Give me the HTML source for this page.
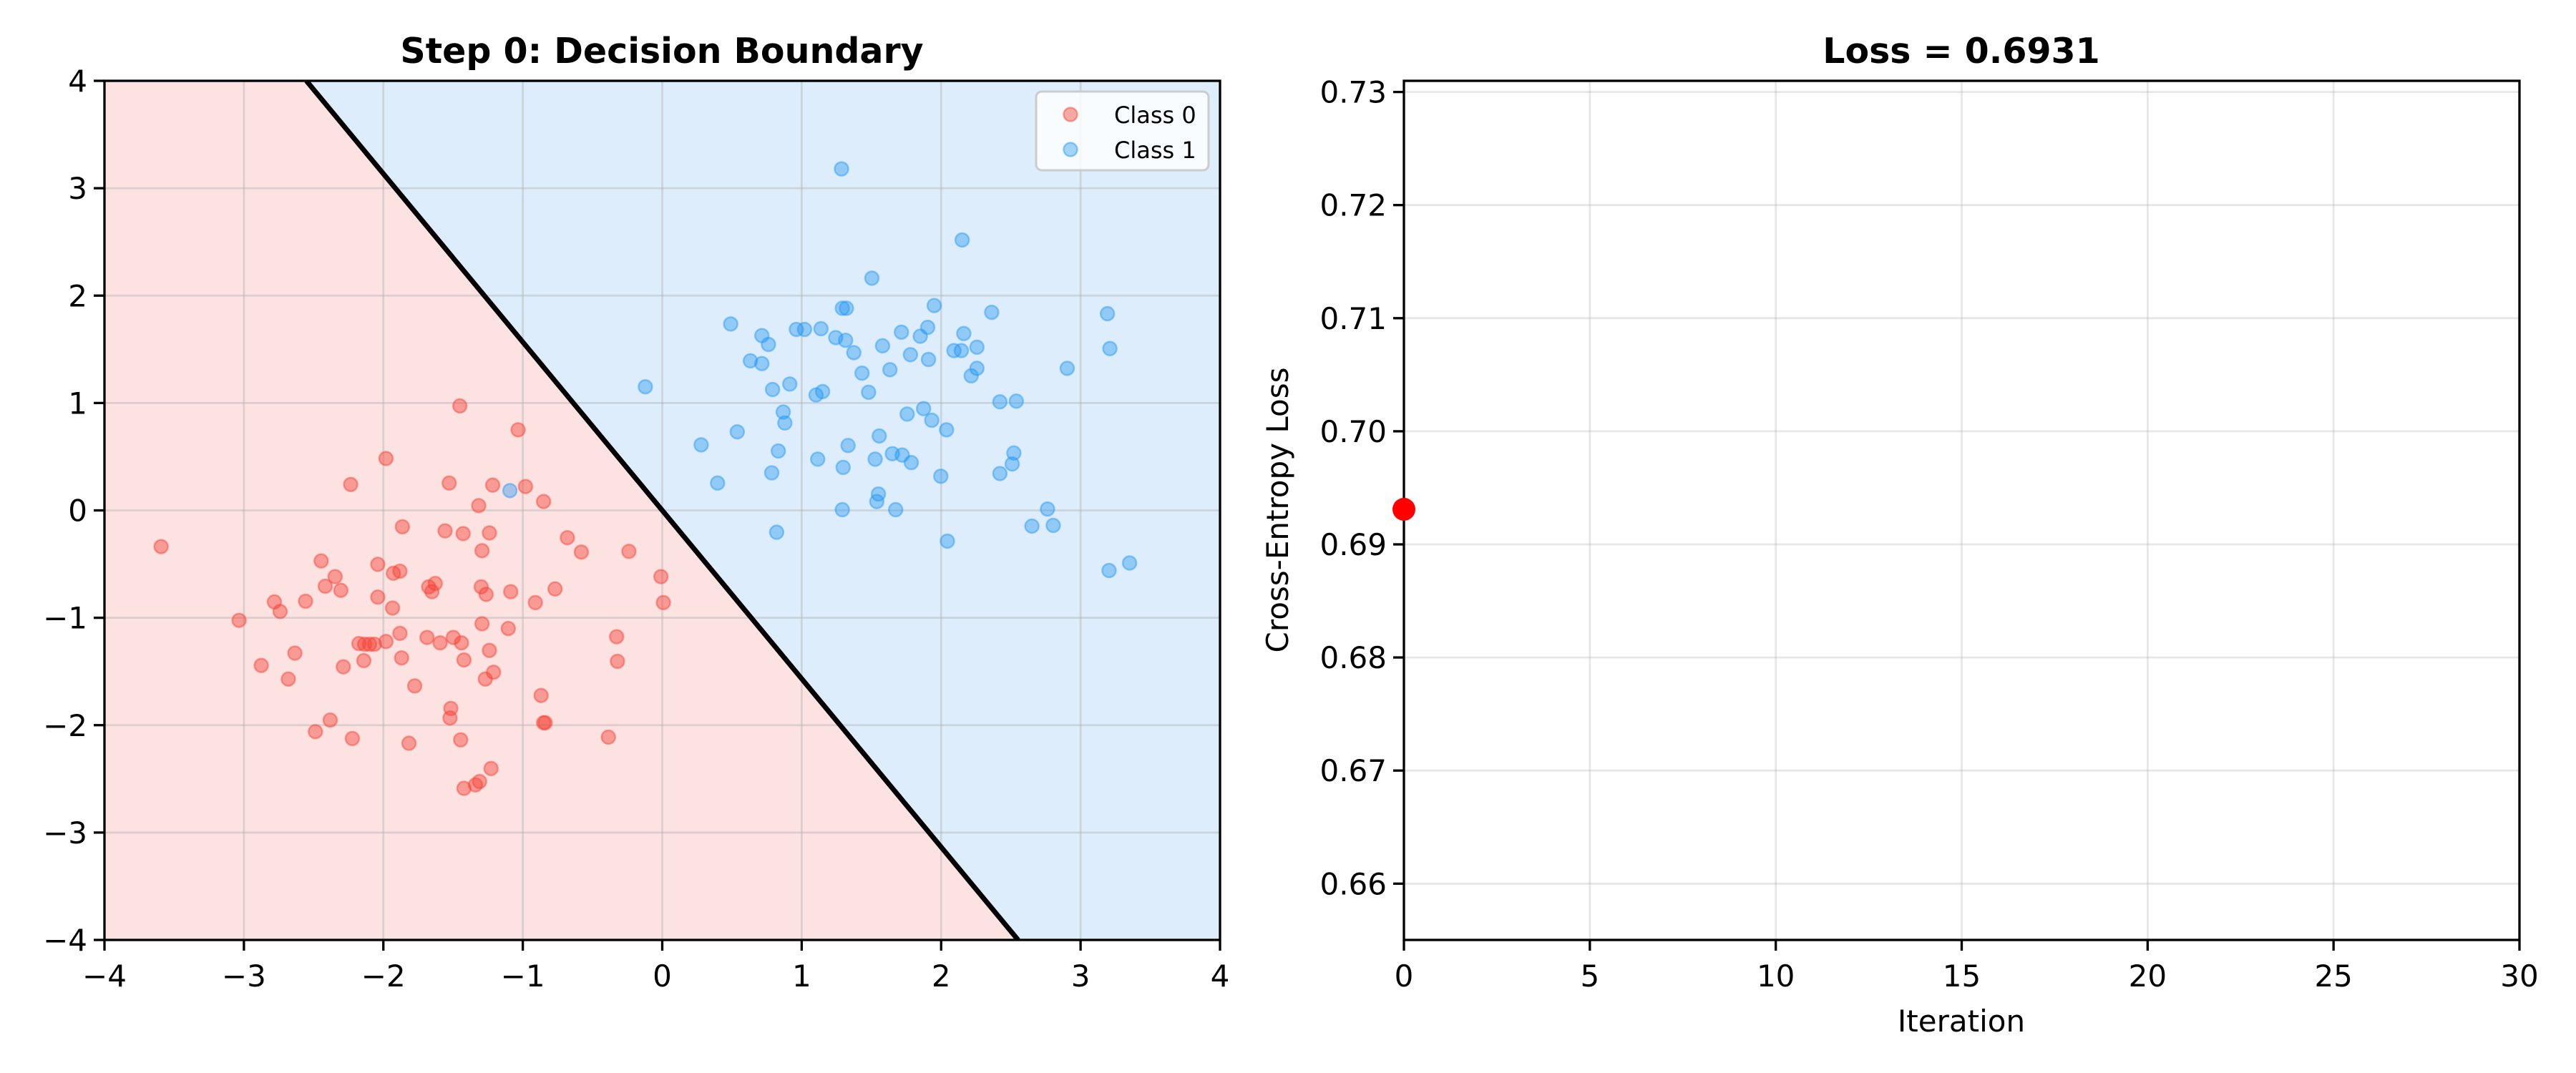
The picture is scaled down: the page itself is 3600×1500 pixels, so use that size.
<!DOCTYPE html>
<html><head><meta charset="utf-8"><style>
html,body{margin:0;padding:0;background:#fff}
svg{display:block}
text{font-family:"DejaVu Sans","Liberation Sans",sans-serif;fill:#000}
</style></head><body>
<svg id="s" width="3600" height="1500" xmlns="http://www.w3.org/2000/svg">
<rect width="3600" height="1500" fill="#fff"/>
<defs><clipPath id="cl"><rect x="146" y="113" width="1559" height="1201"/></clipPath></defs>
<g id="L"></g>
<g id="R"></g>
<text x="925" y="88" font-size="49" font-weight="bold" text-anchor="middle">Step 0: Decision Boundary</text>
<text x="2741" y="88" font-size="49" font-weight="bold" text-anchor="middle">Loss = 0.6931</text>
<text x="2741" y="1442" font-size="42" text-anchor="middle">Iteration</text>
<text transform="translate(1800,713) rotate(-90)" font-size="42" text-anchor="middle">Cross-Entropy Loss</text>
</svg>
<script>
const NS="http://www.w3.org/2000/svg";
function el(p,t,a,txt){const e=document.createElementNS(NS,t);for(const k in a)e.setAttribute(k,a[k]);if(txt!==undefined)e.textContent=txt;p.appendChild(e);return e;}
const L=document.getElementById('L'),R=document.getElementById('R');
const x0=146,x1=1705,y0=113,y1=1314;
const X=v=>x0+(v+4)*(x1-x0)/8, Y=v=>y0+(4-v)*(y1-y0)/8;
const g=el(L,'g',{'clip-path':'url(#cl)'});
el(g,'rect',{x:x0,y:y0,width:x1-x0,height:y1-y0,fill:'#ddedfb'});
const k=1.5675;
el(g,'polygon',{points:`${x0},${y0} ${X(-4/k)},${y0} ${X(4/k)},${y1} ${x0},${y1}`,fill:'#fde2e2'});
for(let v=-4;v<=4;v++){
 el(g,'line',{x1:X(v),x2:X(v),y1:y0,y2:y1,stroke:'#b0b0b0','stroke-opacity':0.4,'stroke-width':2.8});
 el(g,'line',{y1:Y(v),y2:Y(v),x1:x0,x2:x1,stroke:'#b0b0b0','stroke-opacity':0.4,'stroke-width':2.8});
}
const zx=v=>(v-127)/169.9-4, zy=v=>4-(v-117)/157.25;
const red=[[196,799],[291,907],[318,973],[334,880],[341,894],[351,993],[359,955],[372,879],[384,1070],[391,820],[396,857],[402,1053],[408,843],[415,863],[418,975],[427,708],[429,1080],[437,941],[443,966],[444,942],[450,942],[456,942],[460,825],[460,873],[470,938],[470,670],[478,889],[479,838],[487,835],[487,926],[489,962],[490,770],[498,1087],[505,1003],[520,932],[522,858],[526,865],[530,853],[536,940],[542,776],[547,706],[548,1050],[549,1036],[552,932],[560,593],[561,1082],[562,940],[564,780],[565,965],[565,1153],[579,1148],[583,739],[584,1143],[586,858],[587,912],[587,805],[592,869],[591,993],[596,951],[596,779],[598,1124],[600,709],[601,983],[619,919],[622,865],[631,628],[640,711],[652,881],[659,1017],[662,733],[662,1057],[664,1057],[676,861],[691,786],[708,807],[741,1078],[751,931],[752,967],[766,806],[805,843],[808,881]];
const blue=[[621,717],[786,565],[854,650],[874,706],[890,473],[898,631],[928,490],[928,531],[914,527],[936,503],[940,691],[941,569],[946,778],[948,659],[954,602],[956,618],[962,561],[970,481],[980,481],[994,577],[996,671],[1000,480],[1002,572],[1018,493],[1025,246],[1026,450],[1027,683],[1026,745],[1030,497],[1031,450],[1033,651],[1040,515],[1050,545],[1058,573],[1062,406],[1066,671],[1068,733],[1070,722],[1071,637],[1075,505],[1084,540],[1087,663],[1091,745],[1098,485],[1099,665],[1105,605],[1109,518],[1110,676],[1121,491],[1125,597],[1130,478],[1131,525],[1135,614],[1138,446],[1146,696],[1153,628],[1154,791],[1162,512],[1171,512],[1172,350],[1174,487],[1183,549],[1190,538],[1190,507],[1208,456],[1218,587],[1218,692],[1233,678],[1235,662],[1238,586],[1257,769],[1276,744],[1283,768],[1300,538],[1349,458],[1351,834],[1352,509],[1376,823]];
for(const [a,b] of red) el(g,'circle',{cx:X(zx(a)),cy:Y(zy(b)),r:9.5,fill:'#f44336','fill-opacity':0.45,stroke:'#f44336','stroke-opacity':0.45,'stroke-width':2.5});
for(const [a,b] of blue) el(g,'circle',{cx:X(zx(a)),cy:Y(zy(b)),r:9.5,fill:'#2196f3','fill-opacity':0.4,stroke:'#2196f3','stroke-opacity':0.45,'stroke-width':2.5});
el(g,'line',{x1:X(-4/k),y1:y0,x2:X(4/k),y2:y1,stroke:'#000','stroke-width':7});
el(L,'rect',{x:x0,y:y0,width:x1-x0,height:y1-y0,fill:'none',stroke:'#000','stroke-width':3.3});
for(let v=-4;v<=4;v++){
 el(L,'line',{x1:X(v),x2:X(v),y1:y1,y2:y1+15,stroke:'#000','stroke-width':3.3});
 el(L,'line',{x1:x0-15,x2:x0,y1:Y(v),y2:Y(v),stroke:'#000','stroke-width':3.3});
 const s=v<0?'\u2212'+(-v):''+v;
 el(L,'text',{x:X(v),y:1379,'font-size':42,'text-anchor':'middle'},s);
 el(L,'text',{x:x0-24,y:Y(v)+15,'font-size':42,'text-anchor':'end'},s);
}
el(L,'rect',{x:1448,y:128,width:241,height:110,rx:8,fill:'#fff','fill-opacity':0.8,stroke:'#ccc','stroke-width':3});
el(L,'circle',{cx:1496,cy:160,r:9.5,fill:'#f44336','fill-opacity':0.45,stroke:'#f44336','stroke-opacity':0.45,'stroke-width':2.5});
el(L,'circle',{cx:1496,cy:209,r:9.5,fill:'#2196f3','fill-opacity':0.4,stroke:'#2196f3','stroke-opacity':0.45,'stroke-width':2.5});
el(L,'text',{x:1557,y:172,'font-size':32},'Class 0');
el(L,'text',{x:1557,y:221,'font-size':32},'Class 1');
const rx0=1962,rx1=3521;
const RX=v=>rx0+v*(rx1-rx0)/30, RY=v=>128.6+(0.73-v)/0.01*158.1;
for(let v=0;v<=30;v+=5){
 el(R,'line',{x1:RX(v),x2:RX(v),y1:y0,y2:y1,stroke:'#b0b0b0','stroke-opacity':0.3,'stroke-width':2.8});
 el(R,'line',{x1:RX(v),x2:RX(v),y1:y1,y2:y1+15,stroke:'#000','stroke-width':3.3});
 el(R,'text',{x:RX(v),y:1379,'font-size':42,'text-anchor':'middle'},''+v);
}
for(let i=0;i<=7;i++){const v=0.66+i*0.01;
 el(R,'line',{x1:rx0,x2:rx1,y1:RY(v),y2:RY(v),stroke:'#b0b0b0','stroke-opacity':0.3,'stroke-width':2.8});
 el(R,'line',{x1:rx0-15,x2:rx0,y1:RY(v),y2:RY(v),stroke:'#000','stroke-width':3.3});
 el(R,'text',{x:rx0-24,y:RY(v)+15,'font-size':42,'text-anchor':'end'},v.toFixed(2));
}
el(R,'rect',{x:rx0,y:y0,width:rx1-rx0,height:y1-y0,fill:'none',stroke:'#000','stroke-width':3.3});
el(R,'circle',{cx:RX(0),cy:RY(0.6931),r:16,fill:'#ff0000'});
</script>
</body></html>
